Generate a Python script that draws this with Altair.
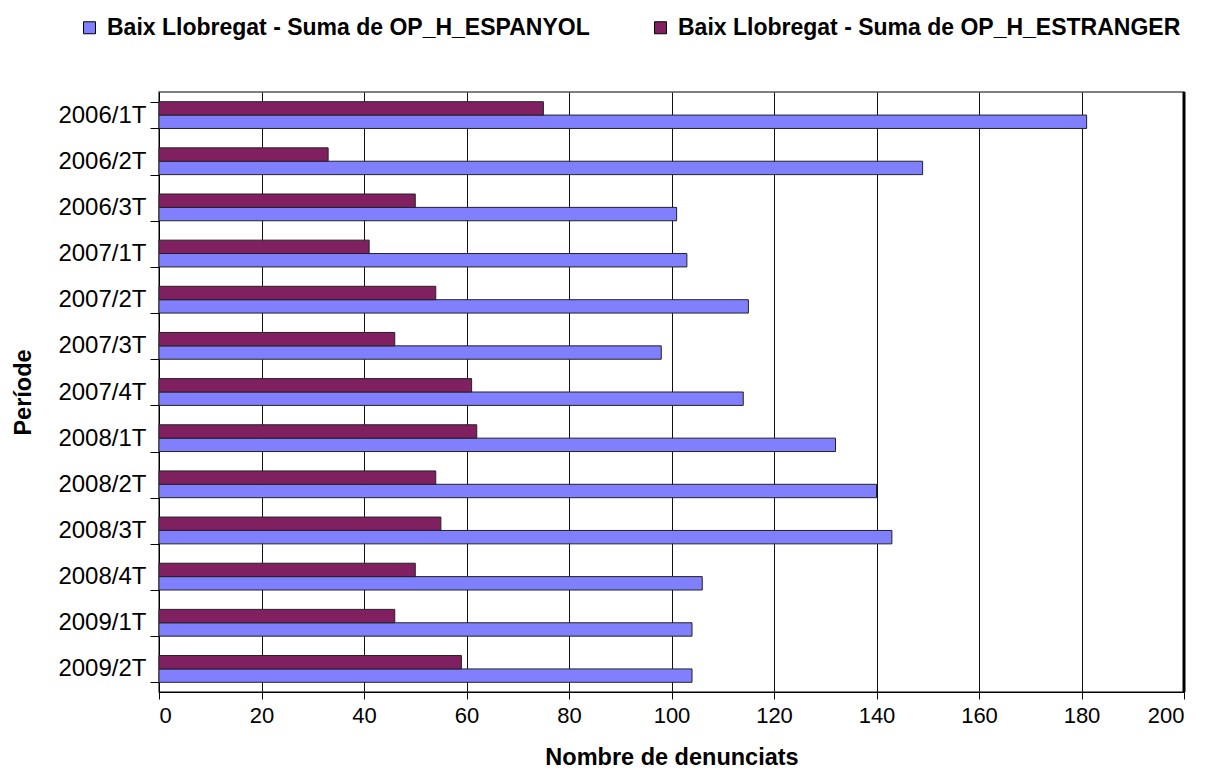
import altair as alt
import pandas as pd

periods = ["2006/1T", "2006/2T", "2006/3T", "2007/1T", "2007/2T", "2007/3T", "2007/4T",
           "2008/1T", "2008/2T", "2008/3T", "2008/4T", "2009/1T", "2009/2T"]
espanyol = [181, 149, 101, 103, 115, 98, 114, 132, 140, 143, 106, 104, 104]
estranger = [75, 33, 50, 41, 54, 46, 61, 62, 54, 55, 50, 46, 59]
series_names = ["Baix Llobregat - Suma de OP_H_ESPANYOL", "Baix Llobregat - Suma de OP_H_ESTRANGER"]
series_colors = ["#8080FF", "#802060"]
x_ticks = [0, 20, 40, 60, 80, 100, 120, 140, 160, 180, 200]

rows = []
for p, a, b in zip(periods, espanyol, estranger):
    rows.append({"Període": p, "Sèrie": series_names[0], "Valor": a})
    rows.append({"Període": p, "Sèrie": series_names[1], "Valor": b})
df = pd.DataFrame(rows)

FONT = "Liberation Sans"
W, H = 1025, 600

bars = alt.Chart(df).mark_bar(stroke="#222222", strokeWidth=1).encode(
    y=alt.Y("Període:N", sort=periods,
            scale=alt.Scale(paddingInner=0.42, paddingOuter=0.21),
            axis=alt.Axis(title="Període", tickBand="extent", tickSize=9, labelPadding=4,
                          labelFont=FONT, labelFontSize=24, labelColor="black",
                          titleFont=FONT, titleFontSize=23.5, titleFontWeight="bold",
                          titleColor="black", titleAngle=270, titleX=-129, titleY=300,
                          titleAlign="center", titleBaseline="alphabetic",
                          domainColor="black", tickColor="black", grid=False)),
    x=alt.X("Valor:Q", scale=alt.Scale(domain=[0, 200], nice=False),
            axis=alt.Axis(title="Nombre de denunciats", values=x_ticks, tickSize=7,
                          labelPadding=6, labelFont=FONT, labelFontSize=22, labelColor="black",
                          titleFont=FONT, titleFontSize=23.5, titleFontWeight="bold",
                          titleColor="black", titleX=W / 2, titleY=72,
                          titleBaseline="alphabetic",
                          domainColor="black", tickColor="black",
                          grid=True, gridColor="#111111", gridWidth=1)),
    yOffset=alt.YOffset("Sèrie:N", sort=[series_names[1], series_names[0]]),
    color=alt.Color("Sèrie:N", scale=alt.Scale(domain=series_names, range=series_colors),
                    legend=alt.Legend(title=None, orient="none", direction="horizontal",
                                      legendX=-81, legendY=-76,
                                      symbolType="square", symbolSize=144,
                                      symbolStrokeColor="black", symbolStrokeWidth=1,
                                      labelFont=FONT, labelFontSize=23, labelFontWeight="bold",
                                      labelColor="black", labelLimit=2000, labelOffset=6,
                                      columnPadding=59)),
)

right_border = alt.Chart(pd.DataFrame({"x": [200]})).mark_rule(
    color="black", strokeWidth=3).encode(x="x:Q")

chart = alt.layer(bars, right_border).properties(
    width=W, height=H,
    autosize=alt.AutoSizeParams(type="none"),
    padding={"left": 151, "top": 84, "right": 14, "bottom": 78},
).configure_view(stroke="#555555", strokeWidth=1.5)

chart.save("out.html", embed_options={"renderer": "svg", "actions": False})
